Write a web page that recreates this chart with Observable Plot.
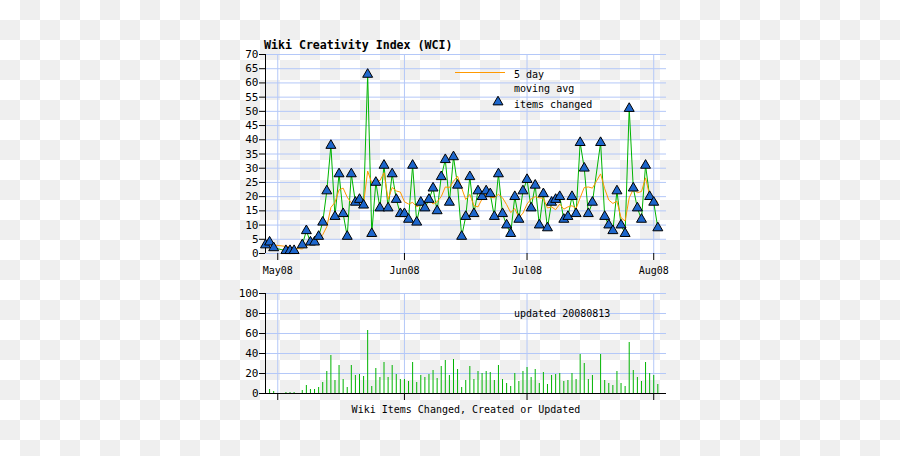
<!DOCTYPE html>
<html>
<head>
<meta charset="utf-8">
<script src="https://cdn.jsdelivr.net/npm/d3@7"></script>
<script src="https://cdn.jsdelivr.net/npm/@observablehq/plot@0.6"></script>
<style>
html, body { margin: 0; padding: 0; }
html, body, #wrap {
  background-color: #ffffff;
  background-image: repeating-conic-gradient(#efefef 0% 25%, #ffffff 0% 50%);
  background-size: 40px 40px;
  background-position: 0 0;
}
body { width: 900px; height: 456px; overflow: hidden; font-family: "DejaVu Sans Mono", monospace; }
#wrap { position: relative; width: 900px; height: 456px; }
#wrap svg { position: absolute; left: 0; background: transparent !important; }
#overlay text { font-family: "DejaVu Sans Mono", monospace; font-size: 10px; fill: #000; }
</style>
</head>
<body>
<div id="wrap"></div>
<script>
// ---- data ----
const dates = [
  "2008-04-28","2008-04-29","2008-04-30","2008-05-03","2008-05-04","2008-05-05","2008-05-07","2008-05-08",
  "2008-05-09","2008-05-10","2008-05-11","2008-05-12","2008-05-13","2008-05-14","2008-05-15","2008-05-16",
  "2008-05-17","2008-05-18","2008-05-19","2008-05-20","2008-05-21","2008-05-22","2008-05-23","2008-05-24",
  "2008-05-25","2008-05-26","2008-05-27","2008-05-28","2008-05-29","2008-05-30","2008-05-31",
  "2008-06-01","2008-06-02","2008-06-03","2008-06-04","2008-06-05","2008-06-06","2008-06-07","2008-06-08",
  "2008-06-09","2008-06-10","2008-06-11","2008-06-12","2008-06-13","2008-06-14","2008-06-15","2008-06-16",
  "2008-06-17","2008-06-18","2008-06-19","2008-06-20","2008-06-21","2008-06-22","2008-06-23","2008-06-24",
  "2008-06-25","2008-06-26","2008-06-27","2008-06-28","2008-06-29","2008-06-30",
  "2008-07-01","2008-07-02","2008-07-03","2008-07-04","2008-07-05","2008-07-06","2008-07-07","2008-07-08",
  "2008-07-09","2008-07-10","2008-07-11","2008-07-12","2008-07-13","2008-07-14","2008-07-15","2008-07-16",
  "2008-07-17","2008-07-19","2008-07-20","2008-07-21","2008-07-22","2008-07-23","2008-07-24","2008-07-25",
  "2008-07-26","2008-07-27","2008-07-28","2008-07-29","2008-07-30","2008-07-31",
  "2008-08-01","2008-08-02"
];
const itemsChanged = [
  3,4,2,1,1,1,3,8,
  4,4,6,11,22,38,13,28,
  14,6,28,18,19,17,63,7,
  25,16,31,16,28,19,14,
  14,12,31,11,18,16,19,23,
  15,27,33,18,34,24,6,13,
  27,14,22,20,22,21,13,28,
  14,10,7,20,12,22,
  26,16,24,10,21,9,18,19,
  20,12,13,20,14,39,30,14,
  18,39,13,10,8,22,10,7,
  51,23,16,12,31,20,
  18,9
];
const monthTicks = ["2008-05-01","2008-06-01","2008-07-01","2008-08-01"];
const monthLabels = ["May08","Jun08","Jul08","Aug08"];
const wciTicks = [0,5,10,15,20,25,30,35,40,45,50,55,60,65,70];
const itemTicks = [0,20,40,60,80,100];
const xDomainStr = ["2008-04-28T00:00Z","2008-08-04T03:00Z"];

// ---- build table ----
const data = dates.map((d, i) => ({date: new Date(d + "T00:00Z"), value: itemsChanged[i]}));
const months = monthTicks.map(d => new Date(d + "T00:00Z"));
const xDomain = xDomainStr.map(d => new Date(d));
const labelOf = new Map(months.map((m, i) => [+m, monthLabels[i]]));

const GRID = "#b4c8f8";
const GREEN = "#00b400";
const ORANGE = "#ff9900";
const BLUE = "#1d66cc";
const FONT = "DejaVu Sans Mono, monospace";

const common = {
  width: 900,
  marginLeft: 265,
  marginRight: 234,
  style: {background: "transparent", fontFamily: FONT, fontSize: "10px", color: "#000", overflow: "visible"},
  x: {type: "utc", domain: xDomain, label: null}
};

const topChart = Plot.plot({
  ...common,
  height: 280,
  marginTop: 54,
  marginBottom: 27,
  y: {domain: [0, 70], label: null},
  marks: [
    Plot.gridY(wciTicks, {stroke: GRID, strokeOpacity: 1}),
    Plot.gridX(months, {stroke: GRID, strokeOpacity: 1}),
    Plot.ruleX([xDomain[0]], {stroke: "#000"}),
    Plot.axisY(wciTicks, {tickSize: 6, tickPadding: 1, tickFormat: d => String(d), fontSize: 11, label: null}),
    Plot.axisX(months, {tickSize: 7, tickPadding: 6, tickFormat: d => labelOf.get(+d), fontSize: 10, label: null}),
    Plot.line(data, {x: "date", y: "value", stroke: GREEN, strokeWidth: 1}),
    Plot.lineY(data, Plot.windowY({k: 5, anchor: "end"}, {x: "date", y: "value", stroke: ORANGE, strokeWidth: 1})),
    Plot.dot(data, {x: "date", y: "value", symbol: "triangle", r: 3.7, fill: BLUE, stroke: "#000", strokeWidth: 1})
  ]
});
topChart.style.top = "0px";

const bottomChart = Plot.plot({
  ...common,
  height: 176,
  marginTop: 13,
  marginBottom: 63,
  y: {domain: [0, 100], label: null},
  marks: [
    Plot.gridY(itemTicks, {stroke: GRID, strokeOpacity: 1}),
    Plot.gridX(months, {stroke: GRID, strokeOpacity: 1}),
    Plot.ruleX(data, {x: "date", y1: 0, y2: "value", stroke: GREEN, strokeWidth: 1}),
    Plot.ruleY([0], {stroke: "#000"}),
    Plot.ruleX([xDomain[0]], {stroke: "#000"}),
    Plot.axisY(itemTicks, {tickSize: 6, tickPadding: 1, tickFormat: d => String(d), fontSize: 11, label: null}),
    Plot.axisX(months, {tickSize: 7, tickFormat: () => "", label: null})
  ]
});
bottomChart.style.top = "280px";

const wrap = document.getElementById("wrap");
wrap.appendChild(topChart);
wrap.appendChild(bottomChart);

// ---- titles, legend, captions ----
const ns = "http://www.w3.org/2000/svg";
const ov = document.createElementNS(ns, "svg");
ov.setAttribute("id", "overlay");
ov.setAttribute("width", 900);
ov.setAttribute("height", 456);
ov.style.top = "0px";
ov.style.pointerEvents = "none";
function addText(str, x, y, opts = {}) {
  const t = document.createElementNS(ns, "text");
  t.setAttribute("x", x); t.setAttribute("y", y);
  if (opts.anchor) t.setAttribute("text-anchor", opts.anchor);
  if (opts.bold) t.setAttribute("font-weight", "bold");
  if (opts.size) t.style.fontSize = opts.size + "px";
  t.textContent = str;
  ov.appendChild(t);
}
addText("Wiki Creativity Index (WCI)", 264, 49, {bold: true, size: 11.6});
const ln = document.createElementNS(ns, "line");
ln.setAttribute("x1", 455); ln.setAttribute("x2", 505);
ln.setAttribute("y1", 72.5); ln.setAttribute("y2", 72.5);
ln.setAttribute("stroke", ORANGE);
ov.appendChild(ln);
addText("5 day", 514, 77.5);
addText("moving avg", 514, 92);
const tri = document.createElementNS(ns, "path");
tri.setAttribute("d", d3.symbol(d3.symbolTriangle, Math.PI * 3.7 * 3.7)());
tri.setAttribute("transform", "translate(498,102)");
tri.setAttribute("fill", BLUE);
tri.setAttribute("stroke", "#000");
ov.appendChild(tri);
addText("items changed", 514, 108);
addText("updated 20080813", 514, 317);
addText("Wiki Items Changed, Created or Updated", 466, 413, {anchor: "middle"});
wrap.appendChild(ov);
</script>
</body>
</html>
